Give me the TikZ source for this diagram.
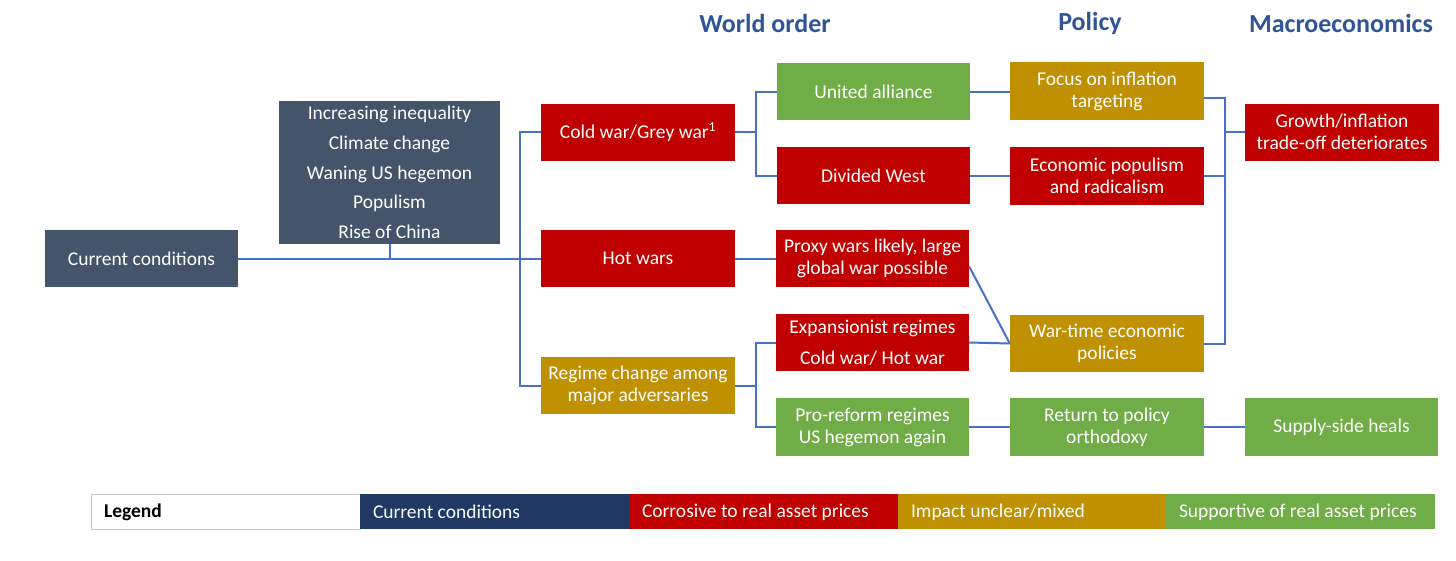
\documentclass[tikz,border=0pt]{standalone}
\usepackage{fontspec}
\setmainfont{Carlito}
\definecolor{cred}{HTML}{C00000}
\definecolor{cgold}{HTML}{BF9000}
\definecolor{cgreen}{HTML}{70AD47}
\definecolor{cslate}{HTML}{44546A}
\definecolor{cnavy}{HTML}{1F3864}
\definecolor{cline}{HTML}{4472C4}
\definecolor{chead}{HTML}{2F5597}
\begin{document}
\begin{tikzpicture}[x=1pt,y=-1pt,
  box/.style={rectangle, minimum width=194pt, minimum height=57pt, inner sep=0pt, text=white, align=center, font=\fontsize{19.5}{22}\selectfont},
  redbox/.style={box, fill=cred},
  goldbox/.style={box, fill=cgold},
  greenbox/.style={box, fill=cgreen},
  slatebox/.style={box, fill=cslate},
  head/.style={font=\fontsize{26}{28}\selectfont\bfseries, text=chead},
  conn/.style={draw=cline, line width=2pt},
  leg/.style={rectangle, minimum width=269pt, minimum height=35pt, inner sep=0pt},
  legtext/.style={anchor=west, inner sep=0pt, text=white, font=\fontsize{19.5}{20}\selectfont}
]
\useasboundingbox (0,0) rectangle (1456,560);
% headers
\node[head] (h1) at (765,23.5) {World order};
\node[head] (h2) at (1090,23.5) {Policy};
\node[head] (h3) at (1341,23.5) {Macroeconomics};
% boxes
\node[slatebox, minimum width=193pt] (cc) at (141.5,258.5) {Current conditions};
\node[slatebox, minimum width=221pt, minimum height=143pt, font=\fontsize{19.5}{29.7}\selectfont] (cond) at (389.5,172.5) {Increasing inequality\\Climate change\\Waning US hegemon\\Populism\\Rise of China};
\node[redbox] (cold) at (638,132) {Cold war/Grey war\textsuperscript{1}};
\node[redbox] (hot) at (638,258.5) {Hot wars};
\node[goldbox] (regime) at (638,385.5) {Regime change among\\major adversaries};
\node[greenbox, minimum width=193pt] (united) at (873.5,91.5) {United alliance};
\node[redbox, minimum width=193pt] (divided) at (873.5,175.5) {Divided West};
\node[redbox, minimum width=193pt] (proxy) at (872.5,258.5) {Proxy wars likely, large\\global war possible};
\node[redbox, minimum width=193pt, font=\fontsize{19.5}{31}\selectfont] (expan) at (872.5,342.5) {Expansionist regimes\\Cold war/ Hot war};
\node[greenbox, minimum width=193pt, minimum height=58pt] (reform) at (872.5,427) {Pro-reform regimes\\US hegemon again};
\node[goldbox, minimum height=58pt] (focus) at (1107,91) {Focus on inflation\\targeting};
\node[redbox, minimum height=58pt] (populism) at (1107,176) {Economic populism\\and radicalism};
\node[goldbox] (wartime) at (1107,343.5) {War-time economic\\policies};
\node[greenbox, minimum height=58pt] (return) at (1107,427) {Return to policy\\orthodoxy};
\node[redbox] (growth) at (1342,132) {Growth/inflation\\trade-off deteriorates};
\node[greenbox, minimum width=193pt, minimum height=58pt] (supply) at (1341.5,427) {Supply-side heals};
% connectors
\coordinate (j1) at (520,258.5);
\coordinate (j2) at (756,132);
\coordinate (j3) at (756,385.5);
\coordinate (j4) at (1225,132);
\draw[conn] (cc.east) -- (j1);
\draw[conn] (cond.south) -- (cond.south |- j1);
\draw[conn] (cold.west) -| (j1) |- (regime.west);
\draw[conn] (j1) -- (hot.west);
\draw[conn] (cold.east) -- (j2);
\draw[conn] (united.west) -| (j2) |- (divided.west);
\draw[conn] (hot.east) -- (proxy.east -| proxy.west);
\draw[conn] (regime.east) -- (j3);
\draw[conn] (expan.west) -| (j3) |- (reform.west);
\draw[conn] (united.east) -- (united.east -| focus.west);
\draw[conn] (divided.east) -- (divided.east -| populism.west);
\draw[conn] ([yshift=-8pt]proxy.east) -- (wartime.west);
\draw[conn] (expan.east) -- (wartime.west);
\draw[conn] (reform.east) -- (reform.east -| return.west);
\draw[conn] ([yshift=-7pt]focus.east) -| (j4) |- (wartime.east);
\draw[conn] (populism.east) -- (populism.east -| j4);
\draw[conn] (j4) -- (growth.west);
\draw[conn] (return.east) -- (supply.west);
% legend
\node[leg, fill=white, draw=gray!40] (l0) at (225.5,511.5) {};
\node[leg, fill=cnavy] (l1) at (494.5,511.5) {};
\node[leg, fill=cred] (l2) at (763.5,511.5) {};
\node[leg, fill=cgold] (l3) at (1032.5,511.5) {};
\node[leg, fill=cgreen] (l4) at (1300.5,511.5) {};
\node[legtext, text=black, font=\fontsize{19.5}{20}\selectfont\bfseries] (t0) at ([xshift=13pt,yshift=-0.5pt]l0.west) {Legend};
\node[legtext] (t1) at ([xshift=13pt,yshift=-0.5pt]l1.west) {Current conditions};
\node[legtext] (t2) at ([xshift=13pt,yshift=-0.5pt]l2.west) {Corrosive to real asset prices};
\node[legtext] (t3) at ([xshift=13pt,yshift=-0.5pt]l3.west) {Impact unclear/mixed};
\node[legtext] (t4) at ([xshift=13pt,yshift=-0.5pt]l4.west) {Supportive of real asset prices};
\end{tikzpicture}
\end{document}
